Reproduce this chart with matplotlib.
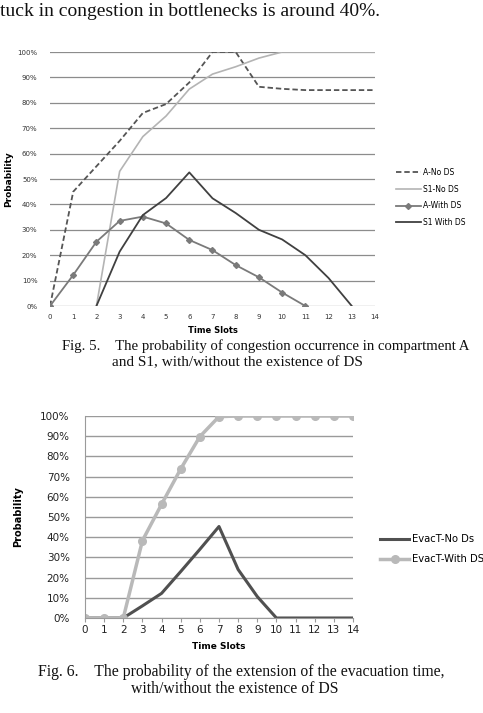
"""
Two scanned-paper line charts: congestion probability (Fig. 5) and
evacuation time extension probability (Fig. 6).
"""

import matplotlib.pyplot as plt
from matplotlib.ticker import PercentFormatter

W, H = 483, 713

# Fig. 5 data (percent), index = time slot
slots = list(range(15))
a_no_ds = [0, 45, 55, 65, 76, 79.5, 88, 100, 100, 86.3, 85.5, 85, 85, 85, 85]
s1_no_ds_x = list(range(2, 15))
s1_no_ds = [0, 53, 66.7, 74.8, 85.4, 91.3, 94.2, 97.6, 100, 100, 100, 100, 100]
a_with_ds_x = list(range(0, 12))
a_with_ds = [0, 12.2, 25.3, 33.5, 35.2, 32.5, 26, 22, 16.1, 11.3, 5.3, 0]
s1_with_ds_x = list(range(2, 14))
s1_with_ds = [0, 21.4, 35.8, 42.5, 52.6, 42.4, 36.6, 30, 26.2, 20, 11, 0]

# Fig. 6 data (percent)
evac_no_ds = [0, 0, 0, 6, 12.2, 23, 34, 45.3, 24, 10.6, 0, 0, 0, 0, 0]
evac_with_ds = [0, 0, 0, 38.3, 56.3, 73.8, 89.8, 99.7, 100, 100, 100, 100, 100, 100, 100]


def box(left, top, right, bottom):
    return [left / W, (H - bottom) / H, (right - left) / W, (bottom - top) / H]


fig = plt.figure(figsize=(W / 100, H / 100), dpi=100)
fig.patch.set_facecolor('white')
serif = 'Liberation Serif'

fig.text(0, 1 - 12 / H, "tuck in congestion in bottlenecks is around 40%.",
         family=serif, size=14, va='center', ha='left', color='#111111')

# ---------------- Fig. 5 ----------------
ax1 = fig.add_axes(box(50, 52, 375, 306))
ax1.plot(slots, a_no_ds, color='#555555', lw=1.3, ls=(0, (3, 1.6)), label='A-No DS')
ax1.plot(s1_no_ds_x, s1_no_ds, color='#b4b4b4', lw=1.2, label='S1-No DS')
ax1.plot(a_with_ds_x, a_with_ds, color='#7a7a7a', lw=1.3, marker='D', ms=3,
         label='A-With DS')
ax1.plot(s1_with_ds_x, s1_with_ds, color='#404040', lw=1.3, label='S1 With DS')
ax1.set_xlim(0, 14)
ax1.set_ylim(0, 100)
ax1.set_xticks(slots)
ax1.set_yticks(range(0, 101, 10))
ax1.yaxis.set_major_formatter(PercentFormatter(decimals=0))
ax1.grid(axis='y', color='#8c8c8c', lw=0.9)
ax1.set_axisbelow(True)
for s in ax1.spines.values():
    s.set_visible(False)
ax1.tick_params(length=0, labelsize=5, colors='#333333', pad=9)
ax1.tick_params(axis='x', pad=6)
ax1.set_xlabel('Time Slots', size=6, weight='bold', labelpad=4)
ax1.set_ylabel('Probability', size=6.5, weight='bold', labelpad=3)
ax1.legend(loc='center left', bbox_to_anchor=(389 / W, (H - 197.5) / H),
           bbox_transform=fig.transFigure, frameon=False, fontsize=5.5,
           handlelength=3.3, handletextpad=0.3, labelspacing=1.0)

fig.text(62 / W, 1 - 346 / H,
         "Fig. 5.    The probability of congestion occurrence in compartment A",
         family=serif, size=10.65, va='center', ha='left', color='#111111')
fig.text(237 / W, 1 - 363 / H, "and S1, with/without the existence of DS",
         family=serif, size=11, va='center', ha='center', color='#111111')

# ---------------- Fig. 6 ----------------
ax2 = fig.add_axes(box(85, 416, 353, 618))
ax2.plot(slots, evac_no_ds, color='#505050', lw=2.2, label='EvacT-No Ds')
ax2.plot(slots, evac_with_ds, color='#b9b9b9', lw=2.5, marker='o', ms=5.5,
         label='EvacT-With DS')
ax2.set_xlim(0, 14)
ax2.set_ylim(0, 100)
ax2.set_xticks(slots)
ax2.set_yticks(range(0, 101, 10))
ax2.yaxis.set_major_formatter(PercentFormatter(decimals=0))
ax2.grid(axis='y', color='#9a9a9a', lw=1.0)
ax2.set_axisbelow(True)
for k in ('top', 'right'):
    ax2.spines[k].set_visible(False)
for k in ('left', 'bottom'):
    ax2.spines[k].set_color('#9a9a9a')
ax2.tick_params(axis='y', length=0, labelsize=7.5, colors='#222222', pad=11)
ax2.tick_params(axis='x', length=3, color='#9a9a9a', labelsize=7.5,
                labelcolor='#222222', pad=2)
ax2.set_xlabel('Time Slots', size=6.5, weight='bold', labelpad=5)
ax2.set_ylabel('Probability', size=7, weight='bold', labelpad=12)
ax2.legend(loc='center left', bbox_to_anchor=(371 / W, (H - 549.5) / H),
           bbox_transform=fig.transFigure, frameon=False, fontsize=7.2,
           handlelength=2.9, handletextpad=0.3, labelspacing=1.0)

fig.text(38 / W, 1 - 672 / H,
         "Fig. 6.    The probability of the extension of the evacuation time,",
         family=serif, size=11.3, va='center', ha='left', color='#111111')
fig.text(235 / W, 1 - 689 / H, "with/without the existence of DS",
         family=serif, size=11.3, va='center', ha='center', color='#111111')

fig.savefig('out.png', dpi=100)
plt.close(fig)
